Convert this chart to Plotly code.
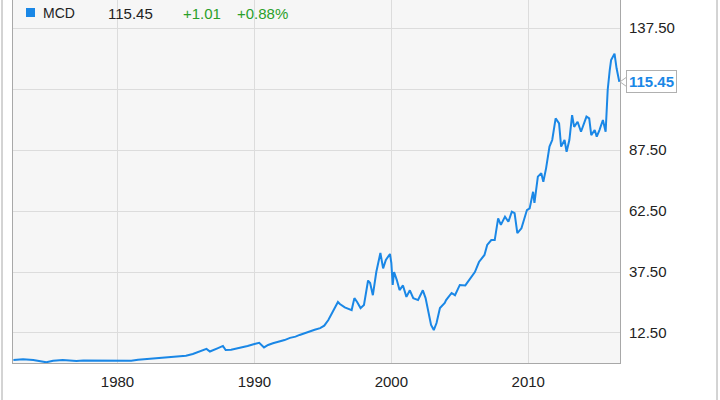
import datetime as dt
import plotly.graph_objects as go

# ---- data ----
years = [1972.4, 1973.1, 1973.85, 1974.3, 1974.8, 1975.3, 1976.0, 1976.5, 1977.0, 1977.5,
         1978.0, 1978.5, 1979.0, 1979.5, 1980.0, 1980.5, 1981.0, 1981.5, 1982.0, 1982.5,
         1983.0, 1983.5, 1984.0, 1984.6, 1985.0, 1985.5, 1986.0, 1986.5, 1986.75, 1987.0,
         1987.3, 1987.7, 1987.9, 1988.3, 1988.85, 1989.5, 1990.0, 1990.35, 1990.7, 1991.0,
         1991.35, 1991.85, 1992.2, 1992.6, 1993.0, 1993.3, 1993.7, 1994.0, 1994.4, 1994.8,
         1995.1, 1995.4, 1995.8, 1996.1, 1996.24, 1996.6, 1997.1, 1997.3, 1997.5, 1997.75,
         1998.0, 1998.3, 1998.45, 1998.65, 1998.9, 1999.2, 1999.4, 1999.6, 1999.9, 2000.0,
         2000.1, 2000.2, 2000.4, 2000.6, 2000.85, 2001.1, 2001.35, 2001.6, 2001.95, 2002.3,
         2002.5, 2002.7, 2002.9, 2003.1, 2003.3, 2003.55, 2003.9, 2004.0, 2004.4, 2004.65,
         2005.0, 2005.4, 2005.8, 2006.1, 2006.4, 2006.8, 2007.0, 2007.3, 2007.55, 2007.8,
         2008.0, 2008.3, 2008.55, 2008.8, 2009.0, 2009.2, 2009.5, 2009.9, 2010.1, 2010.35,
         2010.45, 2010.7, 2010.95, 2011.1, 2011.3, 2011.55, 2011.75, 2012.0, 2012.25, 2012.4,
         2012.65, 2012.8, 2013.0, 2013.2, 2013.35, 2013.6, 2013.85, 2014.05, 2014.25, 2014.45,
         2014.6, 2014.85, 2015.0, 2015.2, 2015.45, 2015.65, 2015.8, 2015.95, 2016.05, 2016.3,
         2016.45, 2016.65]
prices = [1.4, 1.7, 1.4, 1.0, 0.5, 1.15, 1.4, 1.2, 1.0, 1.2,
          1.15, 1.2, 1.0, 1.1, 0.9, 1.0, 1.1, 1.5, 1.7, 1.9,
          2.1, 2.4, 2.5, 2.8, 3.2, 3.9, 4.8, 6.0, 4.9, 5.6,
          6.2, 7.2, 5.5, 5.6, 6.2, 7.2, 8.0, 8.5, 6.6, 7.6,
          8.3, 9.0, 9.6, 10.5, 11.0, 11.7, 12.5, 13.3, 13.8, 14.5,
          15.5, 17.8, 21.9, 25.2, 24.4, 23.0, 21.9, 26.8, 25.2, 22.7,
          24.0, 34.0, 33.0, 28.0, 37.5, 45.3, 39.0, 42.4, 44.9, 41.2,
          32.2, 37.5, 34.2, 30.1, 32.0, 27.3, 30.0, 26.8, 26.0, 30.0,
          26.8, 21.9, 15.8, 13.7, 16.6, 22.7, 24.8, 26.0, 28.9, 28.0,
          32.2, 32.0, 34.9, 37.5, 41.6, 44.5, 48.6, 50.6, 50.6, 59.5,
          56.8, 60.2, 58.1, 62.2, 61.6, 53.4, 55.4, 62.9, 63.6, 70.4,
          65.8, 76.6, 78.0, 74.5, 80.0, 88.9, 91.6, 100.5, 98.4, 88.9,
          91.6, 86.8, 91.6, 101.8, 97.0, 99.1, 95.0, 97.7, 101.2, 100.5,
          93.6, 95.7, 93.0, 95.7, 99.8, 95.0, 112.1, 120.3, 124.4, 127.0,
          121.0, 115.45]
ticker = "MCD"
last_price = "115.45"
change = "+1.01"
change_pct = "+0.88%"
y_ticks = [12.5, 37.5, 62.5, 87.5, 112.5, 137.5]
y_tick_labels = ["12.50", "37.50", "62.50", "87.50", "", "137.50"]  # 112.50 hidden behind price tag
x_ticks = ["1980-01-01", "1990-01-01", "2000-01-01", "2010-01-01"]
x_tick_labels = ["1980", "1990", "2000", "2010"]


def to_date(y):
    yr = int(y)
    return dt.datetime(yr, 1, 1) + dt.timedelta(days=(y - yr) * 365.25)


dates = [to_date(y) for y in years]

BLUE = "#1a87e6"
FONT = "Liberation Sans, Arial, sans-serif"

fig = go.Figure()
fig.add_trace(go.Scatter(x=dates, y=prices, mode="lines",
                         line=dict(color=BLUE, width=2), hoverinfo="skip"))

W, H = 720, 400
L, R, T, B = 13, 100, 0, 37
pw = W - L - R
ph = H - T - B


def px_x(p):
    return (p - L) / pw


def px_y(p):
    return 1 - (p - T) / ph


fig.update_layout(
    width=W, height=H,
    margin=dict(l=L, r=R, t=T, b=B),
    paper_bgcolor="white",
    plot_bgcolor="#f6f6f6",
    showlegend=False,
    font=dict(family=FONT, size=15, color="#222"),
    xaxis=dict(
        type="date",
        range=[to_date(1972.37), to_date(2016.7)],
        tickvals=x_ticks, ticktext=x_tick_labels,
        showgrid=True, gridcolor="#dcdcdc", gridwidth=1,
        showline=True, linecolor="#a8a8a8", linewidth=1,
        ticks="", ticklabelstandoff=5,
        tickfont=dict(size=15, color="#222"),
        zeroline=False,
    ),
    yaxis=dict(
        side="right",
        range=[0.2, 149.0],
        tickvals=y_ticks, ticktext=y_tick_labels,
        showgrid=True, gridcolor="#dcdcdc", gridwidth=1,
        showline=True, linecolor="#a8a8a8", linewidth=1, mirror=True,
        ticks="", ticklabelstandoff=5,
        tickfont=dict(size=15, color="#222"),
        zeroline=False,
    ),
)

# header legend row
fig.add_shape(type="rect", xref="paper", yref="paper",
              x0=px_x(26), x1=px_x(35), y0=px_y(17), y1=px_y(8),
              fillcolor=BLUE, line=dict(width=0))
hdr = [(ticker, 41, "#222", 14), (last_price, 106, "#222", 15),
       (change, 181, "#2aa02a", 15), (change_pct, 235, "#2aa02a", 15)]
for txt, xp, col, fs in hdr:
    fig.add_annotation(text=txt, xref="paper", yref="paper", x=px_x(xp), y=px_y(13),
                       xanchor="left", yanchor="middle", showarrow=False,
                       font=dict(size=fs, color=col, family=FONT))

# last-price label with pointer
last_val = prices[-1]
fig.add_annotation(text="<b>" + last_price + "</b>", xref="paper", yref="y",
                   x=1, y=last_val, xanchor="left", yanchor="middle", xshift=6,
                   showarrow=False, bgcolor="white", bordercolor="#b0b0b0",
                   borderwidth=1, borderpad=2,
                   font=dict(size=15, color=BLUE, family=FONT))
ppu = ph / (149.0 - 0.2)
fig.add_shape(type="path", xref="paper", yref="y",
              path=(f"M {px_x(620)} {last_val} L {px_x(627)} {last_val + 5 / ppu} "
                    f"L {px_x(627)} {last_val - 5 / ppu} Z"),
              fillcolor="white", line=dict(color="#b0b0b0", width=1), layer="above")

# outer frame verticals
for xp in (2, 717):
    fig.add_shape(type="line", xref="paper", yref="paper",
                  x0=px_x(xp), x1=px_x(xp), y0=px_y(H), y1=px_y(0),
                  line=dict(color="#a8a8a8", width=1))

fig.write_html("out.html")
